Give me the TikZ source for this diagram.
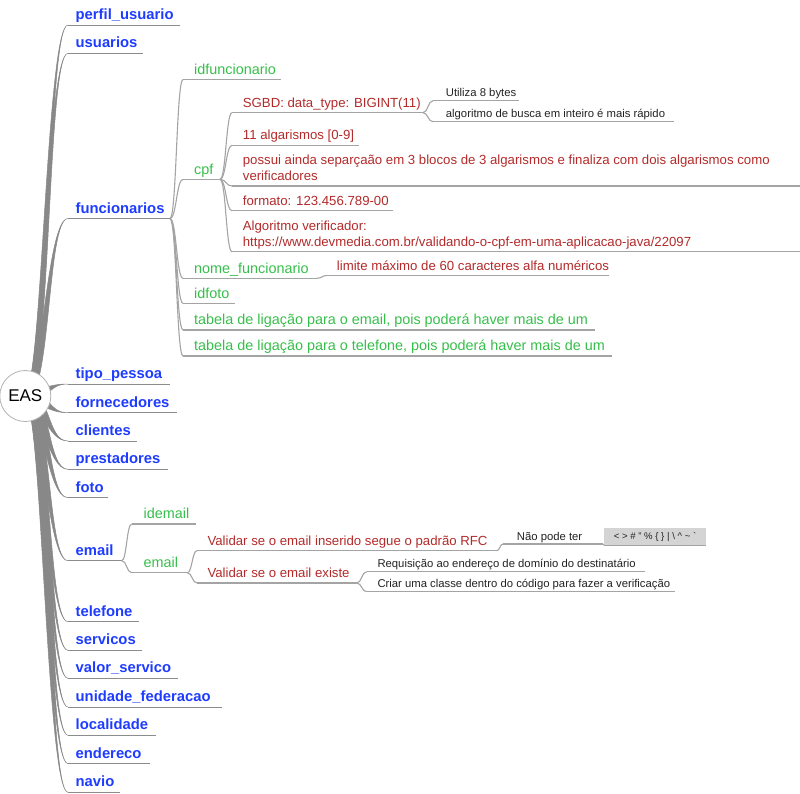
\documentclass[tikz,border=0pt]{standalone}
\usepackage{fontspec}
\setmainfont{Liberation Sans}
\usetikzlibrary{calc}

\definecolor{mmblue}{HTML}{1E3CFF}
\definecolor{mmgreen}{HTML}{36BE4A}
\definecolor{mmred}{HTML}{B32A2A}
\definecolor{mmdark}{HTML}{222222}
\definecolor{trunkgray}{HTML}{888888}
\definecolor{ulgrayA}{HTML}{8C8C8C}
\definecolor{ulgrayB}{HTML}{A4A4A4}
\definecolor{boxgray}{HTML}{D4D4D4}

\pgfdeclarelayer{edges}
\pgfsetlayers{edges,main}

% node with an underline: name, style, underline start x, text x, underline end x, underline y, text
\newcommand\mnode[7]{%
  \coordinate (#1-in) at (#3,#6);
  \coordinate (#1-out) at (#5,#6);
  \draw[#2-ul] (#1-in) -- (#1-out);
  \node[#2] (#1) at (#4,#6) {#7};
}
% thin bezier connector from the end of a parent underline to the start of a child underline
\newcommand\mlink[2]{%
  \path ($(#1-out)!0.5!(#2-in)$) coordinate (mlinkmid);
  \draw[thinedge] (#1-out) .. controls (mlinkmid |- #1-out) and (mlinkmid |- #2-in) .. (#2-in);
}
% tapered connector from the central node to a first-level node
\newcommand\rlink[1]{%
  \filldraw[trunk] let \p1=(root.center), \p2=(#1-in),
      \n1={0.5*(\x1+\x2)}, \n2={ifthenelse(\y2<\y1,1,-1)*5} in
    (\x1,\y1+5pt) .. controls (\n1+\n2,\y1+5pt) and (\n1,\y2) .. (\p2)
    .. controls (\n1,\y2) and (\n1-\n2,\y1-5pt) .. (\x1,\y1-5pt) -- cycle;
}

\begin{document}
\begin{tikzpicture}[x=1pt,y=-1pt,
  lvl1/.style={text=mmblue, font=\fontsize{14.8}{17}\selectfont\bfseries, inner sep=0pt, anchor=base west, yshift=5.5pt},
  lvl1-ul/.style={draw=ulgrayA, line width=1pt},
  lvl2/.style={text=mmgreen, font=\fontsize{14.4}{17}\selectfont, inner sep=0pt, anchor=base west, yshift=5.3pt},
  lvl2-ul/.style={draw=ulgrayB, line width=1.1pt},
  lvl3/.style={text=mmred, font=\fontsize{13.2}{16}\selectfont, inner sep=0pt, anchor=base west, yshift=5.4pt},
  lvl3-ul/.style={draw=ulgrayB, line width=1.1pt},
  lvl4/.style={text=mmdark, font=\fontsize{11.3}{14}\selectfont, inner sep=0pt, anchor=base west, yshift=4pt},
  lvl4-ul/.style={draw=ulgrayB, line width=1.1pt},
  thinedge/.style={draw=ulgrayB, line width=1.1pt},
  trunk/.style={fill=trunkgray, draw=trunkgray, line width=0.5pt},
  rootnode/.style={circle, draw=gray!60, fill=white, line width=0.8pt, minimum size=51pt, inner sep=0pt, font=\fontsize{17}{20}\selectfont},
  charbox/.style={fill=boxgray, minimum width=102pt, minimum height=16.7pt, inner sep=0pt, text=mmdark, font=\fontsize{9.6}{11}\selectfont}
]
\useasboundingbox (0,0) rectangle (800,793);

\node[rootnode] (root) at (25.3,396) {EAS};

% first level
\mnode{perfil}{lvl1}{68}{75.5}{180}{25}{perfil\_usuario}
\mnode{usuarios}{lvl1}{68}{75.5}{143}{53.3}{usuarios}
\mnode{func}{lvl1}{68}{75.5}{170}{218.5}{funcionarios}
\mnode{tipo}{lvl1}{68}{75.5}{170}{384}{tipo\_pessoa}
\mnode{forn}{lvl1}{68}{75.5}{177}{412.7}{fornecedores}
\mnode{cli}{lvl1}{68}{75.5}{137}{441}{clientes}
\mnode{prest}{lvl1}{68}{75.5}{168}{469.3}{prestadores}
\mnode{foto}{lvl1}{68}{75.5}{108}{497.7}{foto}
\mnode{email}{lvl1}{68}{75.5}{121.7}{560.7}{email}
\mnode{tel}{lvl1}{68}{75.5}{139}{621.7}{telefone}
\mnode{serv}{lvl1}{68}{75.5}{141.7}{650.3}{servicos}
\mnode{valor}{lvl1}{68}{75.5}{178}{678.3}{valor\_servico}
\mnode{uf}{lvl1}{68}{75.5}{222}{707}{unidade\_federacao}
\mnode{local}{lvl1}{68}{75.5}{155.7}{735.3}{localidade}
\mnode{ender}{lvl1}{68}{75.5}{150}{763.7}{endereco}
\mnode{navio}{lvl1}{68}{75.5}{120}{792.3}{navio}

% funcionarios
\mnode{idfunc}{lvl2}{183}{194}{281}{79.5}{idfuncionario}
\mnode{cpf}{lvl2}{183}{194}{220}{179.3}{cpf}
\mnode{nome}{lvl2}{183}{194}{316.7}{278.3}{nome\_funcionario}
\mnode{idfoto}{lvl2}{183}{194}{235}{303.3}{idfoto}
\mnode{tabemail}{lvl2}{183}{194}{595}{330}{tabela de ligação para o email, pois poderá haver mais de um}
\mnode{tabtel}{lvl2}{183}{194}{612}{356}{tabela de ligação para o telefone, pois poderá haver mais de um}

% cpf
\mnode{sgbd}{lvl3}{232}{242.7}{423}{112.7}{SGBD: data\_type: BIGINT(11)}
\mnode{alg}{lvl3}{232}{242.7}{359}{145.3}{11 algarismos [0-9]}
\mnode{possui}{lvl3}{232}{242.7}{800}{186}{\begin{tabular}[b]{@{}l@{}}possui ainda separçaão em 3 blocos de 3 algarismos e finaliza com dois algarismos como\\verificadores\end{tabular}}
\mnode{formato}{lvl3}{232}{242.7}{393}{210.7}{formato: 123.456.789-00}
\mnode{algver}{lvl3}{232}{242.7}{800}{251.7}{\begin{tabular}[b]{@{}l@{}}Algoritmo verificador:\\https://www.devmedia.com.br/validando-o-cpf-em-uma-aplicacao-java/22097\end{tabular}}

% SGBD
\mnode{bytes}{lvl4}{433}{445.7}{519}{100.7}{Utiliza 8 bytes}
\mnode{busca}{lvl4}{433}{445.7}{674}{121.7}{algoritmo de busca em inteiro é mais rápido}

% nome_funcionario
\mnode{limite}{lvl3}{327}{336.7}{609}{275.5}{limite máximo de 60 caracteres alfa numéricos}

% email
\mnode{idemail}{lvl2}{131.7}{143.5}{195.7}{524}{idemail}
\mnode{emailf}{lvl2}{131.7}{143.5}{187.3}{572.7}{email}
\mnode{rfc}{lvl3}{197}{207.3}{496.7}{550.7}{Validar se o email inserido segue o padrão RFC}
\mnode{existe}{lvl3}{197}{207.3}{356.7}{583}{Validar se o email existe}
\mnode{naopode}{lvl4}{503}{516.7}{603}{544}{Não pode ter}
\mnode{requis}{lvl4}{366.7}{377.3}{645}{571.7}{Requisição ao endereço de domínio do destinatário}
\mnode{criar}{lvl4}{366.7}{377.3}{675}{591.7}{Criar uma classe dentro do código para fazer a verificação}

% forbidden characters box
\node[charbox] (chars) at (655,536.7) {< > \# " \% \{ \} | \textbackslash{} \textasciicircum{} \textasciitilde{} \textasciigrave};
\coordinate (chars-in) at (chars.south west);
\draw[lvl4-ul] (chars.south west) -- (chars.south east);

% connectors
\mlink{func}{idfunc}
\mlink{func}{cpf}
\mlink{func}{nome}
\mlink{func}{idfoto}
\mlink{func}{tabemail}
\mlink{func}{tabtel}
\mlink{cpf}{sgbd}
\mlink{cpf}{alg}
\mlink{cpf}{possui}
\mlink{cpf}{formato}
\mlink{cpf}{algver}
\mlink{sgbd}{bytes}
\mlink{sgbd}{busca}
\mlink{nome}{limite}
\mlink{email}{idemail}
\mlink{email}{emailf}
\mlink{emailf}{rfc}
\mlink{emailf}{existe}
\mlink{rfc}{naopode}
\mlink{naopode}{chars}
\mlink{existe}{requis}
\mlink{existe}{criar}

\begin{pgfonlayer}{edges}
\foreach \c in {perfil,usuarios,func,tipo,forn,cli,prest,foto,email,tel,serv,valor,uf,local,ender,navio}{\rlink{\c}}
\end{pgfonlayer}
\end{tikzpicture}
\end{document}
